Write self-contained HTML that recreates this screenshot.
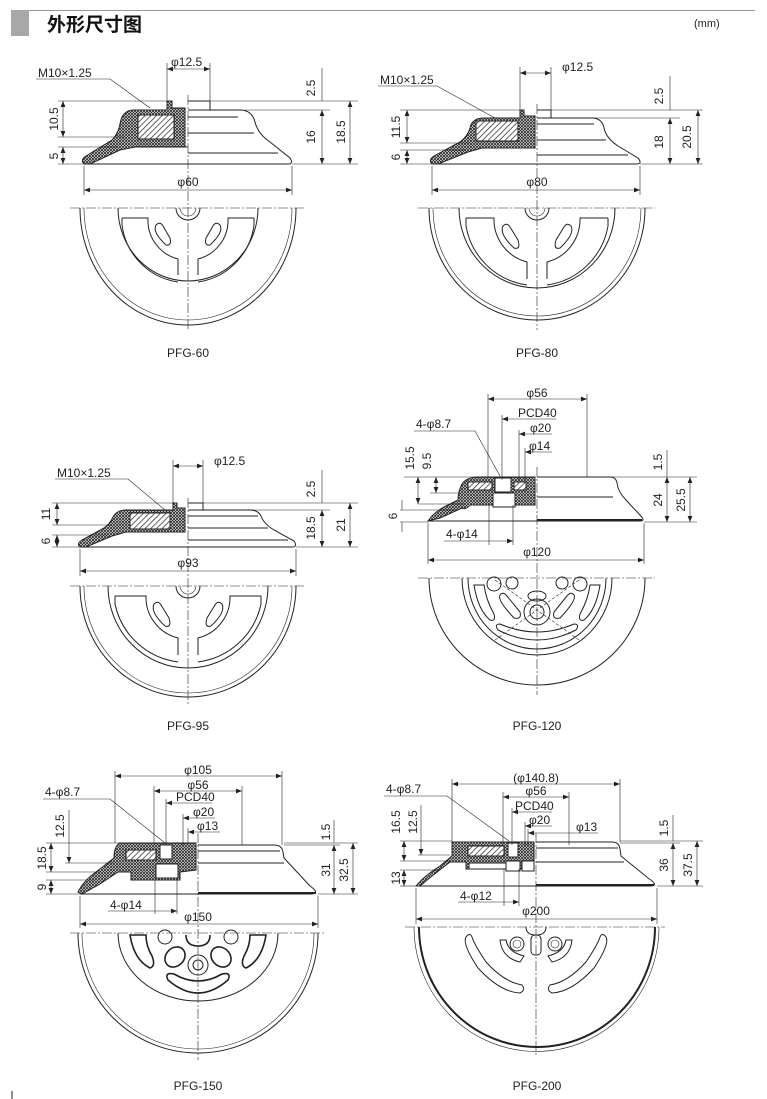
<!DOCTYPE html>
<html><head><meta charset="utf-8"><style>
html,body{margin:0;padding:0;background:#fff;}
svg{display:block;}
text{font-family:"Liberation Sans","Noto Sans CJK SC",sans-serif;fill:#222;font-size:12px;}
.o{fill:none;stroke:#222;stroke-width:1;}
.t{fill:none;stroke:#222;stroke-width:0.6;}
.d{fill:none;stroke:#222;stroke-width:0.6;stroke-dasharray:10 2 2 2;}
.dm{fill:none;stroke:#222;stroke-width:0.6;marker-start:url(#a);marker-end:url(#a);}
.h{fill:url(#xh);stroke:#222;stroke-width:1;}
.hh{fill:url(#dg);stroke:#222;stroke-width:1;}
</style></head><body>
<svg width="767" height="1099" viewBox="0 0 767 1099" xmlns="http://www.w3.org/2000/svg">
<defs>
<marker id="a" viewBox="0 0 10 10" refX="10" refY="5" markerWidth="6" markerHeight="6" orient="auto-start-reverse" markerUnits="userSpaceOnUse"><path d="M0,1 L10,5 L0,9z" fill="#222"/></marker>
<pattern id="xh" width="3" height="3" patternUnits="userSpaceOnUse"><rect width="3" height="3" fill="#fff"/><path d="M0,0L3,3M3,0L0,3" stroke="#222" stroke-width="0.8"/></pattern>
<pattern id="dg" width="4" height="4" patternUnits="userSpaceOnUse" patternTransform="rotate(45)"><rect width="4" height="4" fill="#fff"/><path d="M0,0V4" stroke="#222" stroke-width="1.4"/></pattern>
</defs>

<rect x="11" y="10" width="18" height="26" fill="#a8a8a8"/>
<line x1="29" y1="10.5" x2="755" y2="10.5" stroke="#999" stroke-width="1"/>
<text x="47" y="31" style="font-size:19px;font-weight:bold;fill:#111">外形尺寸图</text>
<text x="694" y="27" style="font-size:11px">(mm)</text>

<!-- PFG-60 -->
<g>
<path class="o" d="M188,110 L240,110 Q252,110 255,122 Q258,134 270,142 L290,158 Q294,164 288,164 L188,164"/>
<path class="o" d="M188,101 L210,101 L210,110"/>
<line class="o" x1="188" y1="117" x2="238" y2="117"/>
<line class="o" x1="188" y1="133" x2="254" y2="133"/>
<line class="o" x1="188" y1="153" x2="278" y2="153"/>
<path class="h" d="M167,101 L172,101 L172,108 L185,108 L185,147 L135,147 L120,150 L90,164 L84,164 Q80,160 86,156 L112,140 Q118,134 120,124 Q122,110 134,110 L167,110 Z"/>
<rect class="hh" x="138" y="115" width="36" height="24"/>
<line class="o" x1="135" y1="147" x2="188" y2="147"/>
<line class="o" x1="84" y1="164" x2="188" y2="164"/>
<line class="d" x1="188" y1="95" x2="188" y2="330"/>
<line class="t" x1="167" y1="63" x2="167" y2="101"/><line class="t" x1="210" y1="63" x2="210" y2="101"/>
<line class="dm" x1="167" y1="69" x2="210" y2="69"/>
<text x="171" y="66">φ12.5</text>
<text x="38" y="77">M10×1.25</text>
<path class="t" d="M36,79 L110,79 L150,108"/>
<line class="t" x1="58" y1="101" x2="167" y2="101"/><line class="t" x1="58" y1="137" x2="125" y2="137"/>
<line class="t" x1="58" y1="147" x2="118" y2="147"/><line class="t" x1="58" y1="164" x2="84" y2="164"/>
<line class="dm" x1="63" y1="101" x2="63" y2="137"/><line class="dm" x1="63" y1="147" x2="63" y2="164"/>
<text transform="translate(58,119) rotate(-90)" text-anchor="middle">10.5</text>
<text transform="translate(58,156) rotate(-90)" text-anchor="middle">5</text>
<line class="t" x1="210" y1="101" x2="358" y2="101"/><line class="t" x1="245" y1="110" x2="330" y2="110"/><line class="t" x1="292" y1="164" x2="358" y2="164"/>
<line class="t" x1="322" y1="68" x2="322" y2="101"/>
<line class="dm" x1="322" y1="110" x2="322" y2="164"/><line class="dm" x1="350" y1="101" x2="350" y2="164"/>
<text transform="translate(315,88) rotate(-90)" text-anchor="middle">2.5</text>
<text transform="translate(315,137) rotate(-90)" text-anchor="middle">16</text>
<text transform="translate(345,132) rotate(-90)" text-anchor="middle">18.5</text>
<line class="t" x1="84" y1="166" x2="84" y2="195"/><line class="t" x1="292" y1="166" x2="292" y2="195"/>
<line class="dm" x1="84" y1="190" x2="292" y2="190"/>
<text x="188" y="186" text-anchor="middle">φ60</text>
<line class="d" x1="70" y1="208" x2="305" y2="208"/>
<path class="o" d="M80,208 A108,117 0 0 0 296,208"/>
<path class="t" d="M84,208 A104,112 0 0 0 292,208"/>
<path class="o" d="M118,208 A70,73 0 0 0 258,208"/>
<path class="o" d="M122,218 L148,218 A40,40 0 0 0 178,259 L178,275"/>
<path class="o" d="M254,218 L228,218 A40,40 0 0 1 198,259 L198,275"/>
<path class="o" d="M122,218 L122,225 A66,66 0 0 0 178,282"/>
<path class="o" d="M254,218 L254,225 A66,66 0 0 1 198,282"/>
<path class="o" d="M156,225 Q152,232 166,245 Q172,246 170,238 L163,226 Q160,221 156,225Z"/>
<path class="o" d="M220,225 Q224,232 210,245 Q204,246 206,238 L213,226 Q216,221 220,225Z"/>
<path class="o" d="M176,208 A12,12 0 0 0 200,208"/><path class="t" d="M180,208 A8,8 0 0 0 196,208"/>
<text x="188" y="357" text-anchor="middle">PFG-60</text>
</g>

<!-- PFG-80 -->
<g>
<path class="o" d="M537,118 L592,118 Q602,118 604,128 Q606,138 618,146 L638,158 Q643,164 636,164 L537,164"/>
<path class="o" d="M537,110 L551,110 L551,118"/>
<line class="o" x1="537" y1="124" x2="594" y2="124"/>
<line class="o" x1="537" y1="140" x2="606" y2="140"/>
<line class="o" x1="537" y1="155" x2="628" y2="155"/>
<path class="h" d="M520,110 L524,110 L524,116 L535,116 L535,148 L482,148 L468,152 L438,164 L432,164 Q428,160 434,156 L460,142 Q468,136 470,128 Q472,118 484,118 L520,118 Z"/>
<rect class="hh" x="476" y="121" width="42" height="20"/>
<line class="o" x1="432" y1="164" x2="537" y2="164"/>
<line class="d" x1="537" y1="104" x2="537" y2="330"/>
<line class="t" x1="520" y1="67" x2="520" y2="110"/><line class="t" x1="551" y1="67" x2="551" y2="110"/>
<line class="dm" x1="520" y1="73" x2="551" y2="73"/>
<text x="562" y="71">φ12.5</text>
<text x="380" y="84">M10×1.25</text>
<path class="t" d="M378,86 L437,86 L495,118"/>
<line class="t" x1="400" y1="110" x2="520" y2="110"/><line class="t" x1="400" y1="143" x2="470" y2="143"/>
<line class="t" x1="400" y1="150" x2="466" y2="150"/><line class="t" x1="400" y1="164" x2="432" y2="164"/>
<line class="dm" x1="407" y1="110" x2="407" y2="143"/><line class="dm" x1="407" y1="150" x2="407" y2="164"/>
<text transform="translate(400,127) rotate(-90)" text-anchor="middle">11.5</text>
<text transform="translate(400,157) rotate(-90)" text-anchor="middle">6</text>
<line class="t" x1="551" y1="110" x2="703" y2="110"/><line class="t" x1="592" y1="118" x2="680" y2="118"/><line class="t" x1="640" y1="164" x2="703" y2="164"/>
<line class="t" x1="670" y1="76" x2="670" y2="110"/>
<line class="dm" x1="670" y1="118" x2="670" y2="164"/><line class="dm" x1="698" y1="110" x2="698" y2="164"/>
<text transform="translate(663,96) rotate(-90)" text-anchor="middle">2.5</text>
<text transform="translate(663,142) rotate(-90)" text-anchor="middle">18</text>
<text transform="translate(691,137) rotate(-90)" text-anchor="middle">20.5</text>
<line class="t" x1="432" y1="166" x2="432" y2="195"/><line class="t" x1="640" y1="166" x2="640" y2="195"/>
<line class="dm" x1="432" y1="190" x2="640" y2="190"/>
<text x="537" y="186" text-anchor="middle">φ80</text>
<line class="d" x1="418" y1="208" x2="655" y2="208"/>
<path class="o" d="M429,208 A108,112 0 0 0 645,208"/>
<path class="t" d="M433,208 A104,108 0 0 0 641,208"/>
<path class="o" d="M459,208 A78,80 0 0 0 615,208"/>
<path class="o" d="M466,218 L494,218 A44,44 0 0 0 527,262 L527,279"/>
<path class="o" d="M608,218 L580,218 A44,44 0 0 1 547,262 L547,279"/>
<path class="o" d="M466,218 L466,226 A72,72 0 0 0 527,285"/>
<path class="o" d="M608,218 L608,226 A72,72 0 0 1 547,285"/>
<path class="o" d="M503,226 Q499,234 514,248 Q521,250 518,240 L510,227 Q507,222 503,226Z"/>
<path class="o" d="M571,226 Q575,234 560,248 Q553,250 556,240 L564,227 Q567,222 571,226Z"/>
<path class="o" d="M525,208 A12,12 0 0 0 549,208"/><path class="t" d="M529,208 A8,8 0 0 0 545,208"/>
<text x="537" y="357" text-anchor="middle">PFG-80</text>
</g>

<!-- PFG-95 -->
<g>
<path class="o" d="M188,510 L250,510 Q258,510 261,516 Q264,524 274,530 L294,541 Q298,547 292,547 L188,547"/>
<path class="o" d="M188,503 L203,503 L203,510"/>
<line class="o" x1="188" y1="516" x2="258" y2="516"/>
<line class="o" x1="188" y1="528" x2="268" y2="528"/>
<line class="o" x1="188" y1="540" x2="288" y2="540"/>
<path class="h" d="M173,503 L177,503 L177,508 L185,508 L185,532 L126,532 L112,536 L86,547 L80,547 Q76,544 82,540 L104,528 Q110,524 113,517 Q117,510 126,510 L173,510 Z"/>
<rect class="hh" x="130" y="513" width="40" height="16"/>
<line class="o" x1="80" y1="547" x2="188" y2="547"/>
<line class="d" x1="188" y1="498" x2="188" y2="705"/>
<line class="t" x1="173" y1="460" x2="173" y2="503"/><line class="t" x1="203" y1="460" x2="203" y2="503"/>
<line class="dm" x1="173" y1="466" x2="203" y2="466"/>
<text x="214" y="465">φ12.5</text>
<text x="57" y="477">M10×1.25</text>
<path class="t" d="M55,479 L128,479 L165,510"/>
<line class="t" x1="52" y1="503" x2="173" y2="503"/><line class="t" x1="52" y1="525" x2="112" y2="525"/>
<line class="t" x1="52" y1="535" x2="108" y2="535"/><line class="t" x1="52" y1="547" x2="80" y2="547"/>
<line class="dm" x1="57" y1="503" x2="57" y2="525"/><line class="dm" x1="57" y1="535" x2="57" y2="547"/>
<text transform="translate(50,514) rotate(-90)" text-anchor="middle">11</text>
<text transform="translate(50,541) rotate(-90)" text-anchor="middle">6</text>
<line class="t" x1="203" y1="503" x2="358" y2="503"/><line class="t" x1="250" y1="510" x2="330" y2="510"/><line class="t" x1="296" y1="547" x2="358" y2="547"/>
<line class="t" x1="322" y1="470" x2="322" y2="503"/>
<line class="dm" x1="322" y1="510" x2="322" y2="547"/><line class="dm" x1="350" y1="503" x2="350" y2="547"/>
<text transform="translate(315,489) rotate(-90)" text-anchor="middle">2.5</text>
<text transform="translate(315,528) rotate(-90)" text-anchor="middle">18.5</text>
<text transform="translate(345,525) rotate(-90)" text-anchor="middle">21</text>
<line class="t" x1="80" y1="549" x2="80" y2="576"/><line class="t" x1="296" y1="549" x2="296" y2="576"/>
<line class="dm" x1="80" y1="571" x2="296" y2="571"/>
<text x="188" y="567" text-anchor="middle">φ93</text>
<line class="d" x1="70" y1="586" x2="305" y2="586"/>
<path class="o" d="M80,586 A108,111 0 0 0 296,586"/>
<path class="t" d="M84,586 A104,107 0 0 0 292,586"/>
<path class="o" d="M108,586 A80,82 0 0 0 268,586"/>
<path class="o" d="M115,596 L146,596 A42,42 0 0 0 178,638 L178,655"/>
<path class="o" d="M261,596 L230,596 A42,42 0 0 1 198,638 L198,655"/>
<path class="o" d="M115,596 L115,604 A74,74 0 0 0 178,662"/>
<path class="o" d="M261,596 L261,604 A74,74 0 0 1 198,662"/>
<path class="o" d="M154,604 Q150,612 165,626 Q172,628 169,618 L161,605 Q158,600 154,604Z"/>
<path class="o" d="M222,604 Q226,612 211,626 Q204,628 207,618 L215,605 Q218,600 222,604Z"/>
<path class="o" d="M176,586 A12,12 0 0 0 200,586"/><path class="t" d="M180,586 A8,8 0 0 0 196,586"/>
<text x="188" y="730" text-anchor="middle">PFG-95</text>
</g>

<!-- PFG-120 -->
<g>
<path class="o" d="M537,477 L610,477 Q616,477 617,483 Q618,492 626,500 L640,515 Q646,521 640,521 L537,521"/>
<line class="o" x1="537" y1="497" x2="613" y2="497"/>
<line class="o" x1="537" y1="520" x2="642" y2="520" style="stroke-width:2"/>
<path class="h" d="M488,477 L535,477 L535,505 L470,505 Q466,510 462,508 L440,518 L428,521 Q434,512 446,506 L458,500 Q458,492 462,484 Q466,478 476,477 Z"/>
<rect x="495" y="478" width="16" height="14" fill="#fff" stroke="#222"/>
<rect x="493" y="493" width="22" height="14" fill="#fff" stroke="#222"/>
<rect class="hh" x="468" y="482" width="24" height="8"/>
<rect class="hh" x="514" y="482" width="12" height="8"/>
<line class="o" x1="428" y1="521" x2="537" y2="521"/>
<line class="d" x1="537" y1="467" x2="537" y2="695"/>
<line class="t" x1="488" y1="394" x2="488" y2="477"/><line class="t" x1="587" y1="394" x2="587" y2="477"/>
<line class="dm" x1="488" y1="399" x2="587" y2="399"/>
<text x="537" y="397" text-anchor="middle">φ56</text>
<line class="t" x1="502" y1="415" x2="502" y2="480"/>
<path class="t" d="M502,419 L556,419" marker-start="url(#a)"/>
<text x="518" y="417">PCD40</text>
<line class="t" x1="519" y1="430" x2="519" y2="480"/>
<path class="t" d="M519,434 L552,434" marker-start="url(#a)"/>
<text x="530" y="432">φ20</text>
<line class="t" x1="525" y1="448" x2="525" y2="480"/>
<path class="t" d="M525,452 L552,452" marker-start="url(#a)"/>
<text x="529" y="450">φ14</text>
<text x="416" y="428">4-φ8.7</text>
<path class="t" d="M414,431 L475,431 L500,476"/>
<line class="t" x1="404" y1="477" x2="488" y2="477"/><line class="t" x1="418" y1="504" x2="465" y2="504"/>
<line class="t" x1="430" y1="493" x2="460" y2="493"/>
<line class="t" x1="400" y1="510" x2="455" y2="510"/><line class="t" x1="400" y1="522" x2="428" y2="522"/>
<line class="dm" x1="418" y1="477" x2="418" y2="504"/><line class="dm" x1="436" y1="477" x2="436" y2="493"/>
<line class="t" x1="402" y1="500" x2="402" y2="510"/><line class="t" x1="402" y1="522" x2="402" y2="532"/>
<text transform="translate(414,458) rotate(-90)" text-anchor="middle">15.5</text>
<text transform="translate(431,461) rotate(-90)" text-anchor="middle">9.5</text>
<text transform="translate(397,516) rotate(-90)" text-anchor="middle">6</text>
<text x="446" y="538">4-φ14</text>
<line class="t" x1="489" y1="505" x2="489" y2="545"/><line class="t" x1="513" y1="505" x2="513" y2="545"/>
<path class="t" d="M444,541 L513,541" marker-end="url(#a)"/>
<line class="t" x1="590" y1="477" x2="697" y2="477"/><line class="t" x1="644" y1="522" x2="697" y2="522"/>
<line class="t" x1="667" y1="450" x2="667" y2="477"/>
<line class="dm" x1="667" y1="477" x2="667" y2="522"/><line class="dm" x1="690" y1="477" x2="690" y2="522"/>
<text transform="translate(662,462) rotate(-90)" text-anchor="middle">1.5</text>
<text transform="translate(662,500) rotate(-90)" text-anchor="middle">24</text>
<text transform="translate(685,500) rotate(-90)" text-anchor="middle">25.5</text>
<line class="t" x1="428" y1="523" x2="428" y2="564"/><line class="t" x1="644" y1="523" x2="644" y2="564"/>
<line class="dm" x1="428" y1="560" x2="644" y2="560"/>
<text x="537" y="556" text-anchor="middle">φ120</text>
<line class="d" x1="418" y1="578" x2="655" y2="578"/>
<path class="o" d="M429,578 A108,107 0 0 0 645,578"/>
<path class="o" d="M462,578 A75,77 0 0 0 612,578"/>
<path class="o" d="M468,578 A69,71 0 0 0 606,578"/>
<path class="o" d="M474,585 Q478,610 490,620 Q496,622 494,614 Q486,600 484,585Z"/>
<path class="o" d="M600,585 Q596,610 584,620 Q578,622 580,614 Q588,600 590,585Z"/>
<path class="o" d="M498,630 Q537,650 576,630 Q580,624 574,624 Q537,640 500,624 Q494,624 498,630Z"/>
<path class="o" d="M500,595 Q497,600 514,618 Q522,620 520,612 L507,596 Q503,591 500,595Z"/>
<path class="o" d="M574,595 Q577,600 560,618 Q552,620 554,612 L567,596 Q571,591 574,595Z"/>
<circle class="o" cx="537" cy="612" r="13"/><circle class="o" cx="537" cy="612" r="7"/>
<ellipse class="o" cx="537" cy="596" rx="9" ry="5"/>
<circle class="o" cx="494" cy="584" r="7"/><circle class="o" cx="580" cy="584" r="7"/>
<circle class="o" cx="512" cy="583" r="6"/><circle class="o" cx="562" cy="583" r="6"/>
<path class="t" style="stroke-dasharray:3 2" d="M495,580 L579,640 M579,580 L495,640"/>
<text x="537" y="730" text-anchor="middle">PFG-120</text>
</g>

<!-- PFG-150 -->
<g>
<path class="o" d="M198,845 L274,845 Q282,845 283,852 L284,858 L310,886 Q320,893 312,894 L198,894"/>
<line class="o" x1="198" y1="851" x2="280" y2="851"/>
<line class="o" x1="198" y1="863" x2="284" y2="863"/>
<line class="o" x1="198" y1="893" x2="316" y2="893" style="stroke-width:2"/>
<path class="h" d="M120,843 L196,843 L196,870 L180,872 L180,880 L131,880 L131,872 L118,872 L100,884 L82,894 L78,892 Q84,880 96,872 L114,858 Q114,846 120,843 Z"/>
<rect x="160" y="845" width="12" height="14" fill="#fff" stroke="#222"/>
<rect x="156" y="864" width="22" height="14" fill="#fff" stroke="#222"/>
<rect class="hh" x="126" y="850" width="30" height="10"/>
<line class="o" x1="80" y1="894" x2="198" y2="894"/>
<line class="d" x1="198" y1="833" x2="198" y2="1060"/>
<line class="t" x1="115" y1="771" x2="115" y2="843"/><line class="t" x1="282" y1="771" x2="282" y2="845"/>
<line class="dm" x1="115" y1="776" x2="282" y2="776"/>
<text x="198" y="774" text-anchor="middle">φ105</text>
<line class="t" x1="154" y1="786" x2="154" y2="845"/><line class="t" x1="242" y1="786" x2="242" y2="845"/>
<line class="dm" x1="154" y1="791" x2="242" y2="791"/>
<text x="198" y="789" text-anchor="middle">φ56</text>
<line class="t" x1="166" y1="799" x2="166" y2="845"/>
<path class="t" d="M166,803 L212,803" marker-start="url(#a)"/>
<text x="176" y="801">PCD40</text>
<line class="t" x1="183" y1="814" x2="183" y2="845"/>
<path class="t" d="M183,818 L215,818" marker-start="url(#a)"/>
<text x="193" y="816">φ20</text>
<line class="t" x1="188" y1="828" x2="188" y2="845"/>
<path class="t" d="M188,832 L220,832" marker-start="url(#a)"/>
<text x="197" y="830">φ13</text>
<text x="45" y="796">4-φ8.7</text>
<path class="t" d="M43,799 L110,799 L165,843"/>
<line class="t" x1="46" y1="843" x2="120" y2="843"/><line class="t" x1="65" y1="863" x2="114" y2="863"/>
<line class="t" x1="46" y1="872" x2="100" y2="872"/><line class="t" x1="46" y1="880" x2="95" y2="880"/><line class="t" x1="46" y1="894" x2="80" y2="894"/>
<line class="dm" x1="69" y1="810" x2="69" y2="863" style="marker-start:none"/>
<line class="dm" x1="51" y1="843" x2="51" y2="872"/><line class="dm" x1="51" y1="880" x2="51" y2="894"/>
<text transform="translate(64,826) rotate(-90)" text-anchor="middle">12.5</text>
<text transform="translate(46,858) rotate(-90)" text-anchor="middle">18.5</text>
<text transform="translate(46,887) rotate(-90)" text-anchor="middle">9</text>
<text x="110" y="909">4-φ14</text>
<line class="t" x1="155" y1="880" x2="155" y2="914"/><line class="t" x1="177" y1="880" x2="177" y2="914"/>
<path class="t" d="M108,911 L177,911" marker-end="url(#a)"/>
<line class="t" x1="284" y1="843" x2="358" y2="843"/><line class="t" x1="284" y1="845" x2="340" y2="845"/><line class="t" x1="318" y1="894" x2="358" y2="894"/>
<line class="t" x1="334" y1="820" x2="334" y2="843"/>
<line class="dm" x1="334" y1="845" x2="334" y2="894"/><line class="dm" x1="353" y1="843" x2="353" y2="894"/>
<text transform="translate(330,832) rotate(-90)" text-anchor="middle">1.5</text>
<text transform="translate(330,870) rotate(-90)" text-anchor="middle">31</text>
<text transform="translate(348,870) rotate(-90)" text-anchor="middle">32.5</text>
<line class="t" x1="80" y1="896" x2="80" y2="928"/><line class="t" x1="318" y1="896" x2="318" y2="928"/>
<line class="dm" x1="80" y1="924" x2="318" y2="924"/>
<text x="198" y="921" text-anchor="middle">φ150</text>
<line class="d" x1="70" y1="933" x2="325" y2="933"/>
<path class="o" d="M78,933 A120,120 0 0 0 318,933"/>
<path class="t" d="M82,933 A116,116 0 0 0 314,933"/>
<path class="o" d="M118,933 A80,68 0 0 0 278,933"/>
<path class="o" d="M130,935 Q134,960 150,968 Q156,966 152,956 Q146,946 146,935Z" style="stroke-width:1.6"/>
<path class="o" d="M266,935 Q262,960 246,968 Q240,966 244,956 Q250,946 250,935Z" style="stroke-width:1.6"/>
<path class="o" d="M168,980 Q198,1006 228,980 Q232,972 222,974 Q198,988 174,974 Q164,972 168,980Z" style="stroke-width:1.6"/>
<ellipse class="o" cx="175" cy="957" rx="9" ry="11" transform="rotate(45 175 957)" style="stroke-width:1.6"/>
<ellipse class="o" cx="221" cy="957" rx="9" ry="11" transform="rotate(-45 221 957)" style="stroke-width:1.6"/>
<path class="o" d="M186,935 Q186,946 198,946 Q210,946 210,935" style="stroke-width:1.6"/>
<circle class="o" cx="198" cy="965" r="10"/><circle class="o" cx="198" cy="965" r="5"/>
<circle class="o" cx="165" cy="937" r="7"/><circle class="o" cx="231" cy="937" r="7"/>
<text x="198" y="1090" text-anchor="middle">PFG-150</text>
<line x1="12" y1="1091" x2="12" y2="1099" stroke="#222"/>
</g>

<!-- PFG-200 -->
<g>
<path class="o" d="M536,842 L612,842 Q619,842 620,849 L621,856 L648,878 Q660,886 650,886 L536,886"/>
<line class="o" x1="536" y1="848" x2="618" y2="848"/>
<line class="o" x1="536" y1="862" x2="624" y2="862"/>
<line class="o" x1="536" y1="885" x2="654" y2="885" style="stroke-width:2"/>
<path class="h" d="M452,842 L534,842 L534,869 L466,869 L466,862 L450,862 L432,876 L420,886 L416,886 Q424,876 440,866 L452,856 Z"/>
<rect x="469" y="863" width="40" height="6" fill="#fff" stroke="#222"/>
<rect x="508" y="843" width="10" height="14" fill="#fff" stroke="#222"/>
<rect x="506" y="861" width="14" height="10" fill="#fff" stroke="#222"/>
<rect x="522" y="861" width="12" height="10" fill="#fff" stroke="#222"/>
<rect class="hh" x="468" y="846" width="36" height="10"/>
<line class="o" x1="416" y1="886" x2="536" y2="886"/>
<line class="d" x1="536" y1="833" x2="536" y2="1055"/>
<line class="t" x1="452" y1="779" x2="452" y2="842"/><line class="t" x1="620" y1="779" x2="620" y2="842"/>
<line class="dm" x1="452" y1="784" x2="620" y2="784"/>
<text x="536" y="782" text-anchor="middle">(φ140.8)</text>
<line class="t" x1="503" y1="792" x2="503" y2="845"/><line class="t" x1="569" y1="792" x2="569" y2="845"/>
<line class="dm" x1="503" y1="797" x2="569" y2="797"/>
<text x="536" y="795" text-anchor="middle">φ56</text>
<line class="t" x1="512" y1="808" x2="512" y2="845"/>
<path class="t" d="M512,812 L552,812" marker-start="url(#a)"/>
<text x="515" y="810">PCD40</text>
<line class="t" x1="525" y1="822" x2="525" y2="845"/>
<path class="t" d="M525,826 L552,826" marker-start="url(#a)"/>
<text x="529" y="824">φ20</text>
<line class="t" x1="528" y1="829" x2="528" y2="845"/>
<path class="t" d="M528,833 L598,833" marker-start="url(#a)"/>
<text x="576" y="831">φ13</text>
<text x="386" y="793">4-φ8.7</text>
<path class="t" d="M384,796 L447,796 L509,841"/>
<line class="t" x1="400" y1="841" x2="452" y2="841"/><line class="t" x1="418" y1="855" x2="450" y2="855"/>
<line class="t" x1="400" y1="861" x2="450" y2="861"/>
<line class="t" x1="400" y1="870" x2="440" y2="870"/><line class="t" x1="400" y1="886" x2="416" y2="886"/>
<line class="dm" x1="404" y1="841" x2="404" y2="861"/><line class="dm" x1="421" y1="805" x2="421" y2="855" style="marker-start:none"/>
<line class="dm" x1="404" y1="870" x2="404" y2="886"/>
<text transform="translate(400,822) rotate(-90)" text-anchor="middle">16.5</text>
<text transform="translate(417,822) rotate(-90)" text-anchor="middle">12.5</text>
<text transform="translate(400,878) rotate(-90)" text-anchor="middle">13</text>
<text x="460" y="900">4-φ12</text>
<line class="t" x1="504" y1="869" x2="504" y2="906"/><line class="t" x1="519" y1="869" x2="519" y2="906"/>
<path class="t" d="M458,902 L519,902" marker-end="url(#a)"/>
<line class="t" x1="620" y1="841" x2="703" y2="841"/><line class="t" x1="620" y1="843" x2="680" y2="843"/><line class="t" x1="657" y1="886" x2="703" y2="886"/>
<line class="t" x1="673" y1="815" x2="673" y2="841"/>
<line class="dm" x1="673" y1="843" x2="673" y2="886"/><line class="dm" x1="697" y1="841" x2="697" y2="886"/>
<text transform="translate(668,828) rotate(-90)" text-anchor="middle">1.5</text>
<text transform="translate(668,865) rotate(-90)" text-anchor="middle">36</text>
<text transform="translate(692,865) rotate(-90)" text-anchor="middle">37.5</text>
<line class="t" x1="416" y1="888" x2="416" y2="924"/><line class="t" x1="657" y1="888" x2="657" y2="924"/>
<line class="dm" x1="416" y1="919" x2="657" y2="919"/>
<text x="536" y="915" text-anchor="middle">φ200</text>
<line class="d" x1="405" y1="927" x2="665" y2="927"/>
<path class="o" d="M419,927 A118,120 0 0 0 655,927" style="stroke-width:2"/>
<path class="t" d="M414,927 A122,124 0 0 0 659,927"/>
<path class="o" d="M466,937 Q462,944 478,968 Q500,992 520,993 Q526,990 522,985 Q504,982 486,962 Q474,944 472,937 Q470,932 466,937Z"/>
<path class="o" d="M606,937 Q610,944 594,968 Q572,992 552,993 Q546,990 550,985 Q568,982 586,962 Q598,944 600,937 Q602,932 606,937Z"/>
<path class="o" d="M500,940 Q502,958 520,962 L524,956 Q508,952 506,940Z"/>
<path class="o" d="M572,940 Q570,958 552,962 L548,956 Q564,952 566,940Z"/>
<circle class="o" cx="517" cy="944" r="7"/><circle class="o" cx="555" cy="944" r="7"/>
<circle class="t" cx="517" cy="944" r="4"/><circle class="t" cx="555" cy="944" r="4"/>
<rect class="o" x="531" y="935" width="10" height="20" rx="4"/>
<path class="o" d="M526,927 Q526,935 536,935 Q546,935 546,927"/>
<text x="537" y="1090" text-anchor="middle">PFG-200</text>
</g>
</svg>
</body></html>
